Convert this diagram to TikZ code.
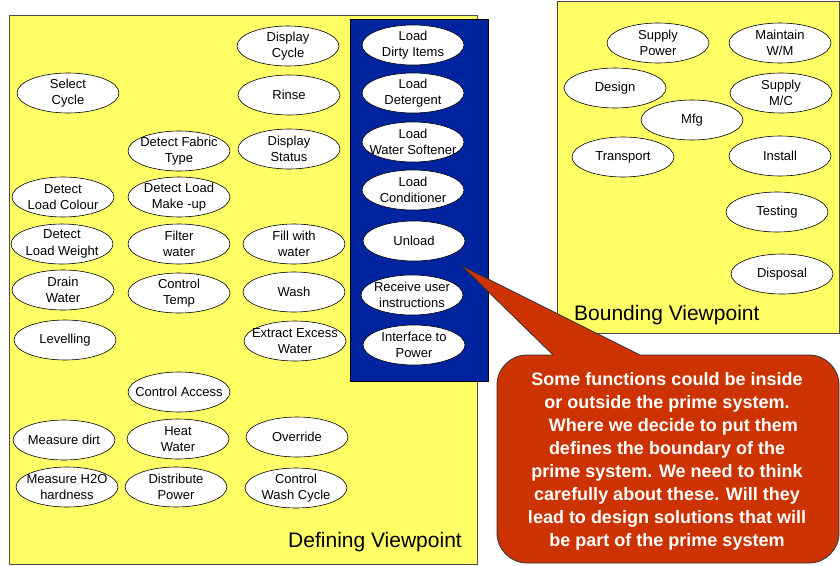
\documentclass[tikz,border=0pt]{standalone}
\usepackage{fontspec}
\setmainfont{Liberation Sans}
\usetikzlibrary{shapes.geometric}
\definecolor{panelyellow}{RGB}{255,255,102}
\definecolor{systemblue}{RGB}{0,35,160}
\definecolor{noteorange}{RGB}{204,51,0}

\begin{document}
\begin{tikzpicture}[x=1pt,y=-1pt,
    func/.style={ellipse, draw=black, fill=white, line width=0.6pt,
      minimum width=102pt, minimum height=40pt, inner xsep=-10pt, inner ysep=-4pt,
      align=center, font=\fontsize{13}{16.5}\selectfont},
    panel/.style={draw=black!70, fill=panelyellow, line width=0.8pt},
    viewlabel/.style={inner sep=0pt, font=\fontsize{21}{25}\selectfont},
    callout/.style={draw=black!80, fill=noteorange, line width=0.8pt}]
    \useasboundingbox (0,0) rectangle (840,565);

    % panels
    \draw[panel] (9,15) rectangle (477,564);
    \draw[draw=black, fill=systemblue, line width=0.8pt] (350,19) rectangle (488,381);
    \draw[panel] (557,1) rectangle (839,333);

    % defining viewpoint
    \node[func] (dispcycle) at (288,46) {Display\\Cycle};
    \node[func] (selcycle) at (68,93) {Select\\Cycle};
    \node[func] (rinse) at (289,95) {Rinse};
    \node[func] (fabric) at (179,151) {Detect Fabric\\Type};
    \node[func] (dispstatus) at (289,149) {Display\\Status};
    \node[func] (colour) at (63,197) {Detect\\Load Colour};
    \node[func] (makeup) at (179,197) {Detect Load\\Make -up};
    \node[func] (weight) at (62,244) {Detect\\Load Weight};
    \node[func] (filter) at (179,244) {Filter\\water};
    \node[func] (fill) at (294,244) {Fill with\\water};
    \node[func] (drain) at (63,290) {Drain\\Water};
    \node[func] (temp) at (179,293) {Control\\Temp};
    \node[func] (wash) at (294,292) {Wash};
    \node[func] (level) at (65,340) {Levelling};
    \node[func] (extract) at (295,341) {Extract Excess\\Water};
    \node[func] (access) at (179,392) {Control Access};
    \node[func] (dirt) at (64,440) {Measure dirt};
    \node[func] (heat) at (178,439) {Heat\\Water};
    \node[func] (override) at (297,437) {Override};
    \node[func] (hardness) at (67,487) {Measure H2O\\hardness};
    \node[func] (distrib) at (176,487) {Distribute\\Power};
    \node[func] (washcycle) at (296,488) {Control\\Wash Cycle};
    \node[viewlabel, anchor=base east] (defview) at (462,547) {Defining Viewpoint};

    % prime system
    \node[func] (dirty) at (413,45) {Load\\Dirty Items};
    \node[func] (detergent) at (413,93) {Load\\Detergent};
    \node[func] (softener) at (413,142) {Load\\Water Softener};
    \node[func] (conditioner) at (413,190) {Load\\Conditioner};
    \node[func] (unload) at (414,241) {Unload};
    \node[func] (userinst) at (412,295) {Receive user\\instructions};
    \node[func] (power) at (414,345) {Interface to\\Power};

    % bounding viewpoint
    \node[func] (supplypow) at (658,43) {Supply\\Power};
    \node[func] (maintain) at (780,43) {Maintain\\W/M};
    \node[func] (design) at (615,88) {Design};
    \node[func] (supplymc) at (781,93) {Supply\\M/C};
    \node[func] (mfg) at (692,120) {Mfg};
    \node[func] (transport) at (623,157) {Transport};
    \node[func] (install) at (780,156) {Install};
    \node[func] (testing) at (777,212) {Testing};
    \node[func] (disposal) at (782,274) {Disposal};
    \node[viewlabel, anchor=base west] (boundview) at (574,320) {Bounding Viewpoint};

    % callout
    \draw[callout, rounded corners=30pt] (497,355) rectangle (839,563);
    \fill[noteorange] (556,358) -- (462,266) -- (646,358) -- cycle;
    \draw[draw=black!80, line width=0.8pt] (553,355) -- (462,266) -- (640,355);
    \node[text=white, align=center, font=\bfseries\fontsize{18}{23}\selectfont] (note) at (667,461)
      {Some functions could be inside\\or outside the prime system.\\\hspace*{0.7em}Where we decide to put them\\defines the boundary of the\\prime system.  We need to think\\carefully about these. Will they\\lead to design solutions  that will\\be part of the prime system};
\end{tikzpicture}
\end{document}
